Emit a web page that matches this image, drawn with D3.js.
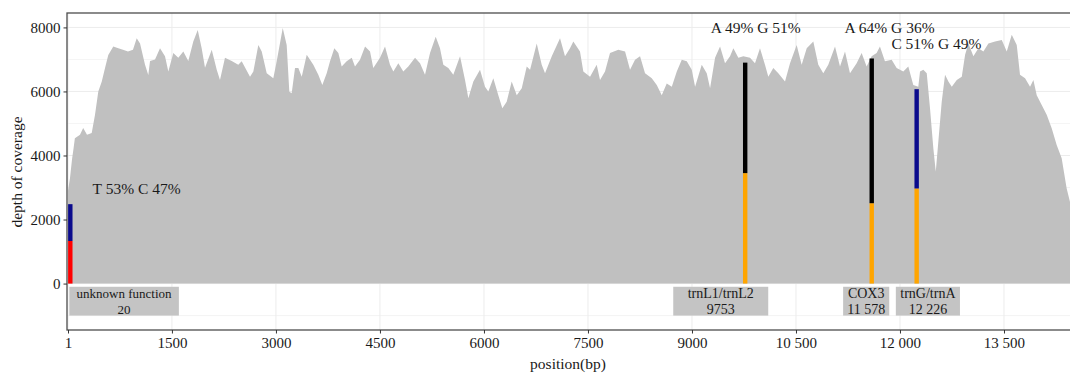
<!DOCTYPE html>
<html>
<head>
<meta charset="utf-8">
<script src="https://cdn.jsdelivr.net/npm/d3@7"></script>
<style>
  body { margin: 0; background: #fff; }
  text { font-family: "Liberation Serif", "Times New Roman", serif; fill: #1a1a1a; }
</style>
</head>
<body>
<div id="chart"></div>
<script>
// coverage profile (bp, depth)
const positions = [1,30,60,80,100,174,220,275,343,390,438,487,535,582,654,726,794,866,938,992,1040,1112,1159,1184,1256,1328,1400,1448,1520,1592,1664,1736,1808,1872,1929,1977,2074,2146,2193,2265,2362,2457,2506,2626,2674,2746,2795,2867,2962,3011,3098,3155,3193,3227,3275,3323,3372,3444,3539,3611,3669,3732,3780,3842,3900,3948,4020,4093,4140,4212,4285,4357,4404,4501,4573,4645,4693,4765,4837,4909,5006,5078,5150,5222,5304,5366,5414,5486,5558,5655,5727,5775,5847,5943,6015,6063,6135,6207,6265,6328,6400,6473,6545,6617,6665,6761,6833,6881,6978,7097,7169,7241,7289,7385,7433,7530,7626,7674,7746,7818,7938,8035,8107,8179,8251,8323,8420,8492,8564,8636,8709,8781,8853,8925,8997,9045,9141,9213,9261,9333,9405,9477,9549,9597,9669,9741,9837,9909,9981,10053,10101,10173,10245,10342,10414,10510,10582,10655,10750,10822,10894,10966,11063,11135,11207,11279,11375,11447,11519,11591,11663,11711,11783,11880,11952,12048,12120,12192,12264,12289,12337,12386,12433,12481,12516,12553,12602,12650,12698,12747,12819,12891,12939,12987,13059,13131,13203,13275,13371,13468,13540,13612,13684,13731,13804,13876,13924,13972,14044,14116,14188,14260,14332,14404,14452];
const depth = [2900,3300,3900,4200,4540,4650,4860,4650,4700,5265,5995,6300,6730,7140,7400,7350,7300,7250,7300,7660,7500,6830,6515,6950,7000,7350,7100,6620,7200,7050,7250,6950,7560,7920,7350,6740,7300,6680,6360,7050,6950,6830,6940,6460,6620,7450,7250,6570,6410,6940,7980,7450,5990,5940,6730,6730,6460,7150,6830,6520,6200,6570,6940,7350,7200,6780,6940,7050,6780,6990,7400,7250,6730,7050,7400,6830,6620,6880,6620,6780,7050,6880,6520,7200,7710,7350,6830,6730,6520,7100,6360,5790,6310,6680,6150,6000,6410,5880,5475,5680,6310,5880,6100,6780,6680,7500,6830,6570,7100,7660,7100,7350,7560,7250,6620,6460,6830,6360,6620,7200,7300,7250,6680,6990,7100,6570,6410,6200,5880,6250,6150,6620,6990,6940,6680,6150,6830,6570,6100,7050,7400,6880,7100,7350,7050,7100,7050,6880,7350,6830,6460,6730,6570,6310,6880,7450,6830,7350,7560,6830,6570,6830,7400,6780,7250,6570,6880,7200,6780,7100,7200,7400,6940,6990,6730,6620,6780,6200,6150,6620,6680,6570,5475,4225,3500,4430,5680,6520,6310,6150,6360,6460,7150,7500,7100,7350,7250,7500,7560,7610,7250,7770,7450,6520,6410,6150,6360,5880,5580,5270,4850,4330,3910,2970,2550];

// variant sites: stacked allele counts
const sitePos = [20, 9753, 11578, 12226];
const lowerDepth = [1330, 3450, 2510, 2970];
const totalDepth = [2480, 6900, 7030, 6070];
const lowerBase = ["T", "G", "G", "G"];
const upperBase = ["C", "A", "A", "C"];

// allele frequency annotations
const noteText = ["T 53% C 47%", "A 49% G 51%", "A 64% G 36%", "C 51% G 49%"];
const notePos = [990, 9920, 11850, 12525];
const noteDepth = [2950, 8000, 8000, 7500];

// gene labels under the profile
const geneName = ["unknown function", "trnL1/trnL2", "COX3", "trnG/trnA"];
const geneSite = ["20", "9753", "11 578", "12 226"];
const geneStart = [20, 8730, 11180, 11940];
const geneEnd = [1600, 10100, 11845, 12865];

const xTicks = [1, 1500, 3000, 4500, 6000, 7500, 9000, 10500, 12000, 13500];
const xTickLabels = ["1", "1500", "3000", "4500", "6000", "7500", "9000", "10 500", "12 000", "13 500"];
const yTicks = [0, 2000, 4000, 6000, 8000];

const width = 1070, height = 373;
const baseColor = { T: "#ff0000", C: "#0a0a8c", A: "#000000", G: "#ffa500" };

const x = d3.scaleLinear().domain([1, 14452]).range([68, 1070]);
const y = d3.scaleLinear().domain([-1450, 8450]).range([330, 13]);

const svg = d3.select("#chart").append("svg")
  .attr("width", width)
  .attr("height", height);

svg.append("clipPath").attr("id", "panel")
  .append("rect")
  .attr("x", 67).attr("y", 13)
  .attr("width", width - 67).attr("height", 317);

const plot = svg.append("g").attr("clip-path", "url(#panel)");

// grid
plot.selectAll(".gy")
  .data(d3.range(-1000, 8001, 1000))
  .join("line")
  .attr("x1", 67).attr("x2", width)
  .attr("y1", d => y(d)).attr("y2", d => y(d))
  .attr("stroke", "#ececec")
  .attr("stroke-width", d => d % 2000 === 0 ? 1 : 0.6);
plot.selectAll(".gx")
  .data(xTicks)
  .join("line")
  .attr("x1", d => x(d)).attr("x2", d => x(d))
  .attr("y1", 13).attr("y2", 330)
  .attr("stroke", "#ececec")
  .attr("stroke-width", 1);

// coverage area
const cover = positions.map((p, i) => ({ p, d: depth[i] }));
plot.append("path")
  .datum(cover)
  .attr("fill", "#c0c0c0")
  .attr("d", d3.area().x(d => x(d.p)).y0(y(0)).y1(d => y(d.d)));

// variant bars
const barW = 4.4;
sitePos.forEach((p, i) => {
  const bx = x(p) - 1.2;
  plot.append("rect")
    .attr("x", bx).attr("width", barW)
    .attr("y", y(lowerDepth[i])).attr("height", y(0) - y(lowerDepth[i]))
    .attr("fill", baseColor[lowerBase[i]]);
  plot.append("rect")
    .attr("x", bx).attr("width", barW)
    .attr("y", y(totalDepth[i])).attr("height", y(lowerDepth[i]) - y(totalDepth[i]))
    .attr("fill", baseColor[upperBase[i]]);
});

// gene label boxes
geneName.forEach((name, i) => {
  const x0 = x(geneStart[i]), x1 = x(geneEnd[i]);
  const cx = (x0 + x1) / 2;
  plot.append("rect")
    .attr("x", x0).attr("width", x1 - x0)
    .attr("y", y(-100)).attr("height", y(-1000) - y(-100))
    .attr("fill", "#c4c4c4");
  const fs = i === 0 ? 13 : 14;
  plot.append("text")
    .attr("x", cx).attr("y", 298)
    .attr("text-anchor", "middle")
    .attr("font-size", fs)
    .text(name);
  plot.append("text")
    .attr("x", cx).attr("y", 313.5)
    .attr("text-anchor", "middle")
    .attr("font-size", fs)
    .text(geneSite[i]);
});

// frequency annotations
svg.selectAll(".note")
  .data(noteText)
  .join("text")
  .attr("x", (d, i) => x(notePos[i]))
  .attr("y", (d, i) => y(noteDepth[i]) + 5.2)
  .attr("text-anchor", "middle")
  .attr("font-size", 15.5)
  .text(d => d);

// panel border
svg.append("rect")
  .attr("x", 67).attr("y", 13)
  .attr("width", width + 10).attr("height", 317)
  .attr("fill", "none")
  .attr("stroke", "#4d4d4d")
  .attr("stroke-width", 1.3);

// axes
const xAxis = svg.append("g")
  .attr("transform", "translate(0,330)")
  .call(d3.axisBottom(x).tickValues(xTicks).tickSize(3.5).tickPadding(4)
    .tickFormat((d, i) => xTickLabels[i]));
xAxis.select(".domain").remove();
xAxis.selectAll("line").attr("stroke", "#333");
xAxis.selectAll("text").attr("font-size", 15).attr("fill", "#1a1a1a")
  .style("font-family", '"Liberation Serif", serif');

const yAxis = svg.append("g")
  .attr("transform", "translate(67,0)")
  .call(d3.axisLeft(y).tickValues(yTicks).tickSize(3.5).tickPadding(3)
    .tickFormat(d3.format("d")));
yAxis.select(".domain").remove();
yAxis.selectAll("line").attr("stroke", "#333");
yAxis.selectAll("text").attr("font-size", 15).attr("fill", "#1a1a1a")
  .style("font-family", '"Liberation Serif", serif');

svg.append("text")
  .attr("x", 568).attr("y", 369)
  .attr("text-anchor", "middle")
  .attr("font-size", 15.5)
  .text("position(bp)");

svg.append("text")
  .attr("transform", "translate(22,172) rotate(-90)")
  .attr("text-anchor", "middle")
  .attr("font-size", 15.5)
  .text("depth of coverage");
</script>
</body>
</html>
